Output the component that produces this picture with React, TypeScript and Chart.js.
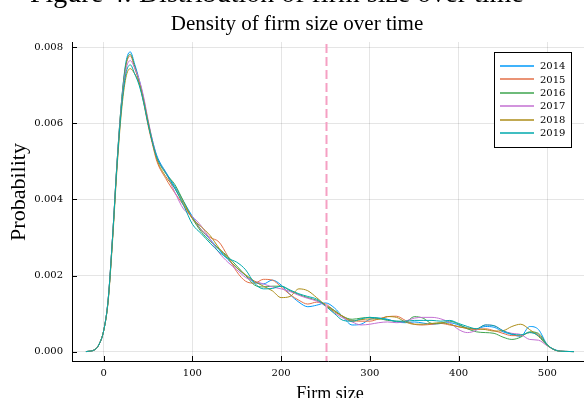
import React, { useEffect, useRef } from "react";
import { Chart, registerables } from "chart.js";

Chart.register(...registerables);

// ---------- data ----------
const firmSize = [
  -20, -10, -5, 0, 5, 10, 15, 20, 25, 30, 35, 40, 45, 50, 55, 60,
  70, 80, 90, 100, 110, 120, 130, 140, 150, 160, 170, 180, 190, 200,
  210, 220, 230, 240, 250, 260, 270, 280, 290, 300,
  310, 320, 330, 340, 350, 360, 370, 380, 390, 400,
  410, 420, 430, 440, 450, 460, 470, 480, 490, 500,
  510, 520, 530,
];

const years = ["2014", "2015", "2016", "2017", "2018", "2019"];

// densities, in units of 1e-3
const dens2014 = [
  0, 0.05, 0.2, 0.55, 1.35, 3.0, 4.95, 6.55, 7.6, 7.88, 7.55, 7.15, 6.65, 6.05, 5.55, 5.15,
  4.72, 4.35, 3.95, 3.55, 3.2, 2.95, 2.68, 2.42, 2.2, 2.0, 1.82, 1.78, 1.88, 1.75,
  1.5, 1.3, 1.18, 1.22, 1.28, 1.15, 0.9, 0.7, 0.72, 0.85,
  0.88, 0.85, 0.78, 0.76, 0.78, 0.75, 0.72, 0.74, 0.76, 0.7,
  0.62, 0.6, 0.66, 0.64, 0.52, 0.45, 0.4, 0.66, 0.58, 0.18,
  0.04, 0.005, 0,
];
const dens2015 = [
  0, 0.05, 0.2, 0.55, 1.35, 3.0, 4.95, 6.5, 7.5, 7.78, 7.45, 7.08, 6.55, 5.95, 5.45, 5.0,
  4.55, 4.18, 3.85, 3.5, 3.2, 3.0, 2.88, 2.5, 2.1, 1.85, 1.8, 1.9, 1.88, 1.7,
  1.5, 1.35, 1.25, 1.3, 1.25, 1.08, 0.92, 0.82, 0.8, 0.8,
  0.86, 0.92, 0.93, 0.82, 0.72, 0.7, 0.72, 0.74, 0.7, 0.66,
  0.6, 0.58, 0.6, 0.55, 0.48, 0.42, 0.42, 0.5, 0.45, 0.17,
  0.03, 0.005, 0,
];
const dens2016 = [
  0, 0.05, 0.2, 0.55, 1.35, 3.0, 4.95, 6.55, 7.55, 7.82, 7.5, 7.1, 6.6, 6.0, 5.5, 5.1,
  4.68, 4.4, 3.95, 3.5, 3.15, 2.9, 2.7, 2.5, 2.25, 2.0, 1.75, 1.7, 1.72, 1.72,
  1.6, 1.5, 1.42, 1.35, 1.22, 1.08, 0.92, 0.85, 0.88, 0.9,
  0.87, 0.82, 0.8, 0.78, 0.92, 0.88, 0.74, 0.75, 0.8, 0.72,
  0.6, 0.52, 0.5, 0.48, 0.38, 0.32, 0.38, 0.52, 0.48, 0.18,
  0.03, 0.005, 0,
];
const dens2017 = [
  0, 0.05, 0.2, 0.55, 1.35, 3.0, 4.9, 6.45, 7.4, 7.65, 7.45, 7.15, 6.7, 6.1, 5.55, 5.1,
  4.7, 4.2, 3.75, 3.55, 3.3, 2.95, 2.6, 2.35, 2.15, 1.95, 1.85, 1.78, 1.7, 1.65,
  1.58, 1.48, 1.4, 1.33, 1.2, 1.02, 0.88, 0.78, 0.7, 0.72,
  0.76, 0.78, 0.76, 0.8, 0.88, 0.9, 0.9, 0.86, 0.76, 0.58,
  0.5, 0.56, 0.7, 0.68, 0.55, 0.48, 0.45, 0.32, 0.3, 0.15,
  0.03, 0.005, 0,
];
const dens2018 = [
  0, 0.05, 0.2, 0.55, 1.3, 2.9, 4.8, 6.3, 7.2, 7.44, 7.3, 7.05, 6.6, 6.05, 5.5, 5.05,
  4.6, 4.3, 3.9, 3.5, 3.28, 3.05, 2.72, 2.45, 2.2, 2.02, 1.85, 1.72, 1.6, 1.42,
  1.45, 1.65, 1.6, 1.42, 1.22, 1.05, 0.92, 0.8, 0.84, 0.86,
  0.85, 0.92, 0.9, 0.78, 0.72, 0.72, 0.74, 0.76, 0.72, 0.65,
  0.62, 0.6, 0.58, 0.54, 0.55, 0.66, 0.72, 0.58, 0.4, 0.16,
  0.03, 0.005, 0,
];
const dens2019 = [
  0, 0.05, 0.2, 0.55, 1.35, 3.0, 4.9, 6.4, 7.3, 7.54, 7.3, 7.0, 6.55, 6.0, 5.5, 5.1,
  4.7, 4.3, 3.85, 3.35, 3.1, 2.85, 2.62, 2.45, 2.35, 2.15, 1.8, 1.65, 1.66, 1.72,
  1.62, 1.52, 1.45, 1.38, 1.2, 1.0, 0.82, 0.8, 0.86, 0.9,
  0.88, 0.84, 0.8, 0.8, 0.82, 0.82, 0.82, 0.8, 0.82, 0.74,
  0.66, 0.6, 0.7, 0.68, 0.55, 0.46, 0.44, 0.5, 0.42, 0.17,
  0.03, 0.005, 0,
];
const densities = [dens2014, dens2015, dens2016, dens2017, dens2018, dens2019];
const densityUnit = 1e-3;

const xTickValues = [0, 100, 200, 300, 400, 500];
const yTickValues = [0, 0.002, 0.004, 0.006, 0.008];
const cutoffSize = 250;

const titleText = "Density of firm size over time";
const captionText = "Figure 4: Distribution of firm size over time";
const xLabel = "Firm size";
const yLabel = "Probability";

// ---------- styles ----------
const seriesColors = ["#009AFA", "#E36F47", "#3EA44E", "#C371D2", "#AC8D18", "#00A9AD"];
const W = 584;
const H = 398;
const TICK_FONT = "10px 'DejaVu Serif'";
const LABEL_FONT = "'Liberation Serif'";

const overlayPlugin = {
  id: "overlay",
  afterDatasetsDraw(chart: any) {
    const { ctx, chartArea, scales } = chart;
    const x = Math.round(scales.x.getPixelForValue(cutoffSize)) + 0.5;
    ctx.save();
    ctx.strokeStyle = "#F5A0C3";
    ctx.lineWidth = 2;
    ctx.setLineDash([9, 4]);
    ctx.beginPath();
    ctx.moveTo(x, chartArea.top + 2);
    ctx.lineTo(x, chartArea.bottom);
    ctx.stroke();
    ctx.restore();
  },
  afterDraw(chart: any) {
    const { ctx, chartArea, scales } = chart;
    ctx.save();
    // inward ticks
    ctx.strokeStyle = "#000";
    ctx.lineWidth = 1;
    ctx.beginPath();
    xTickValues.forEach((v) => {
      const px = Math.round(scales.x.getPixelForValue(v)) + 0.5;
      ctx.moveTo(px, chartArea.bottom);
      ctx.lineTo(px, chartArea.bottom - 5);
    });
    yTickValues.forEach((v) => {
      const py = Math.round(scales.y.getPixelForValue(v)) + 0.5;
      ctx.moveTo(chartArea.left, py);
      ctx.lineTo(chartArea.left + 5, py);
    });
    ctx.stroke();

    // legend
    const lx = 494.5, ly = 52.5, lw = 77, lh = 95;
    ctx.fillStyle = "#fff";
    ctx.fillRect(lx, ly, lw, lh);
    ctx.strokeStyle = "#000";
    ctx.lineWidth = 1;
    ctx.strokeRect(lx, ly, lw, lh);
    ctx.font = TICK_FONT;
    ctx.textBaseline = "middle";
    ctx.textAlign = "left";
    chart.data.datasets.forEach((ds: any, i: number) => {
      const rowY = 66 + i * 13.45;
      ctx.strokeStyle = ds.borderColor;
      ctx.lineWidth = 1.5;
      ctx.beginPath();
      ctx.moveTo(500, Math.round(rowY));
      ctx.lineTo(534, Math.round(rowY));
      ctx.stroke();
      ctx.fillStyle = "#000";
      ctx.fillText(ds.label, 540, rowY + 0.5);
    });

    // titles
    ctx.fillStyle = "#000";
    ctx.textBaseline = "alphabetic";
    ctx.textAlign = "left";
    ctx.font = `28px ${LABEL_FONT}`;
    ctx.fillText(captionText, 30, 2);
    ctx.textAlign = "center";
    ctx.font = `21px ${LABEL_FONT}`;
    ctx.fillText(titleText, 297, 30);
    ctx.font = `18px ${LABEL_FONT}`;
    ctx.fillText(xLabel, 330, 398.5);
    ctx.save();
    ctx.translate(25, 192);
    ctx.rotate(-Math.PI / 2);
    ctx.font = `22px ${LABEL_FONT}`;
    ctx.fillText(yLabel, 0, 0);
    ctx.restore();
    ctx.restore();
  },
};

export default function App() {
  const canvasRef = useRef<HTMLCanvasElement | null>(null);

  useEffect(() => {
    document.body.style.margin = "0";
    const canvas = canvasRef.current;
    if (!canvas) return;
    const datasets = years.map((year, i) => ({
      label: year,
      data: firmSize.map((s, j) => ({ x: s, y: densities[i][j] * densityUnit })),
      borderColor: seriesColors[i],
      backgroundColor: seriesColors[i],
      borderWidth: 1,
      pointRadius: 0,
      fill: false,
      cubicInterpolationMode: "monotone" as const,
      order: years.length - i,
    }));

    const chart = new Chart(canvas, {
      type: "line",
      data: { datasets },
      options: {
        animation: false,
        responsive: false,
        devicePixelRatio: 1,
        layout: { padding: { top: 42, right: 0, left: 0, bottom: 0 } },
        plugins: {
          legend: { display: false },
          tooltip: { enabled: false },
          title: { display: false },
        },
        scales: {
          x: {
            type: "linear",
            min: -35.7,
            max: 541.3,
            afterFit: (s: any) => {
              s.height = 37;
            },
            afterBuildTicks: (s: any) => {
              s.ticks = xTickValues.map((v) => ({ value: v }));
            },
            ticks: {
              autoSkip: false,
              maxRotation: 0,
              padding: 6,
              color: "#000",
              font: { family: "DejaVu Serif", size: 10 },
              callback: (v: any) => String(v),
            },
            grid: {
              color: "rgba(0,0,0,0.1)",
              lineWidth: 1,
              drawTicks: false,
            },
            border: { color: "#000", width: 1 },
          },
          y: {
            type: "linear",
            min: -0.000247,
            max: 0.00814,
            afterFit: (s: any) => {
              s.width = 72;
            },
            afterBuildTicks: (s: any) => {
              s.ticks = yTickValues.map((v) => ({ value: v }));
            },
            ticks: {
              padding: 9,
              color: "#000",
              font: { family: "DejaVu Serif", size: 10 },
              callback: (v: any) => Number(v).toFixed(3),
            },
            grid: {
              color: "rgba(0,0,0,0.1)",
              lineWidth: 1,
              drawTicks: false,
            },
            border: { color: "#000", width: 1 },
          },
        },
      },
      plugins: [overlayPlugin],
    });
    return () => chart.destroy();
  }, []);

  return (
    <div style={{ position: "absolute", left: 0, top: 0, width: W, height: H, background: "#fff" }}>
      <canvas ref={canvasRef} width={W} height={H} style={{ width: W, height: H, display: "block" }} />
    </div>
  );
}
